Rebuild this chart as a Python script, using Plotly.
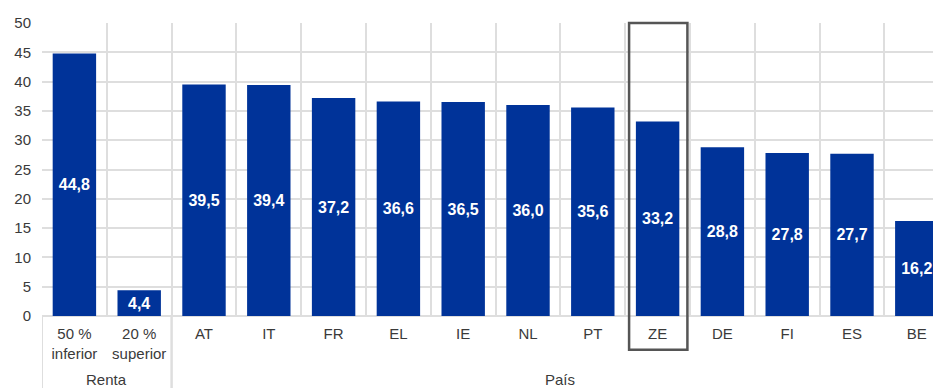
import plotly.graph_objects as go

# Share of households (%) by income group and by country
categories = ["50 %<br>inferior", "20 %<br>superior", "AT", "IT", "FR", "EL", "IE",
              "NL", "PT", "ZE", "DE", "FI", "ES", "BE"]
values = [44.8, 4.4, 39.5, 39.4, 37.2, 36.6, 36.5, 36.0, 35.6, 33.2, 28.8, 27.8, 27.7, 16.2]
y_ticks = [0, 5, 10, 15, 20, 25, 30, 35, 40, 45, 50]
group_labels = ["Renta", "País"]
group_spans = [(0, 1), (2, 13)]   # first and last category index of each group
highlight = "ZE"

labels = [f"{v:.1f}".replace(".", ",") for v in values]

BLUE = "#003399"
GRID = "#dedede"
TEXT = "#3a3a3a"
FONT = "Liberation Sans, Arial, sans-serif"

fig = go.Figure(go.Bar(
    x=categories,
    y=values,
    text=labels,
    textposition="inside",
    insidetextanchor="middle",
    textangle=0,
    constraintext="none",
    textfont=dict(family=FONT, size=16, color="white", weight="bold"),
    marker=dict(color=BLUE, line=dict(width=0)),
    hoverinfo="skip",
))

fig.update_layout(
    width=933,
    height=388,
    margin=dict(l=42, r=0, t=23, b=72),
    paper_bgcolor="white",
    plot_bgcolor="white",
    bargap=0.33,
    showlegend=False,
    font=dict(family=FONT, size=15, color=TEXT),
)

fig.update_xaxes(
    type="category",
    range=[-0.5, 13.25],
    tickson="boundaries",
    showgrid=True,
    gridcolor=GRID,
    gridwidth=2,
    ticks="",
    showline=False,
    zeroline=False,
    ticklabelstandoff=7,
    tickfont=dict(family=FONT, size=15, color=TEXT),
)

fig.update_yaxes(
    range=[0, 50],
    tickvals=y_ticks,
    showgrid=True,
    gridcolor=GRID,
    gridwidth=2,
    zeroline=True,
    zerolinecolor=GRID,
    zerolinewidth=2,
    showline=False,
    ticks="",
    ticklabelstandoff=10,
    tickfont=dict(family=FONT, size=15, color=TEXT),
)

# Group separators running down through the label area
for start, end in group_spans:
    for xb in (start - 0.5, end + 0.5):
        if xb < 13.25:
            fig.add_shape(type="line", xref="x", yref="paper",
                          x0=xb, x1=xb, y0=0, y1=-0.26,
                          line=dict(color=GRID, width=2), layer="below")

# Group names under the tick labels
for name, (start, end) in zip(group_labels, group_spans):
    fig.add_annotation(x=(start + end) / 2, xref="x", y=-0.218, yref="paper",
                       text=name, showarrow=False, yanchor="middle",
                       font=dict(family=FONT, size=15, color=TEXT))

# Frame around the euro area aggregate
hi = categories.index(highlight)
fig.add_shape(type="rect", xref="x", yref="paper",
              x0=hi - 0.44, x1=hi + 0.46, y0=-0.115, y1=1.0,
              line=dict(color="#555555", width=2.5), fillcolor="rgba(0,0,0,0)",
              layer="above")

fig.write_html("out.html")
